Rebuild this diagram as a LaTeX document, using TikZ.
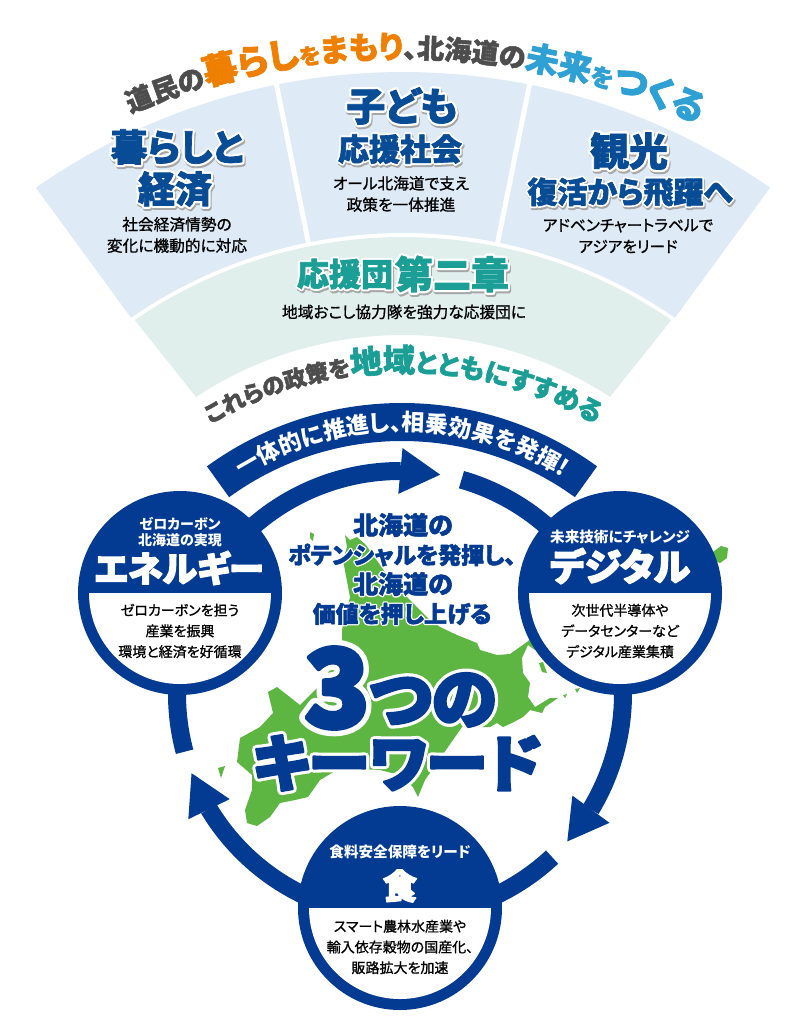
\documentclass[tikz,border=0pt]{standalone}
\usepackage{fontspec}
\usetikzlibrary{arrows.meta,bending,decorations.text}
\newfontfamily\jpfont[RawFeature={+palt}]{Noto Sans CJK JP}
\newfontfamily\jpmedium[RawFeature={+palt},FakeBold=1]{Noto Sans CJK JP}
\newfontfamily\jpcurve[RawFeature={+palt},FakeBold=2]{Noto Sans CJK JP}
\newfontfamily\jpheavy[RawFeature={+palt},FakeBold=4]{Noto Sans CJK JP}
\newfontfamily\jphalo[RawFeature={+palt},FakeBold=14]{Noto Sans CJK JP}
\newcommand{\fs}[2][1.3]{\fontsize{#2}{#1\dimexpr#2pt\relax}\selectfont}
\newcommand{\halotext}[2]{\makebox[0pt]{\color{white}\jphalo\bfseries #2}\makebox[0pt]{\color{#1}\jpcurve\bfseries #2}}
\newcommand{\shadetext}[2]{\makebox[0pt]{\kern2pt\raisebox{-2pt}{\color{black!35}\jphalo\bfseries #2}}\makebox[0pt]{\color{white}\jphalo\bfseries #2}\makebox[0pt]{\color{#1}\jpcurve\bfseries #2}}
\newcommand{\heavytext}[2]{\makebox[0pt]{\color{white}\jphalo\bfseries #2}\makebox[0pt]{\color{#1}\jpheavy\bfseries #2}}
\newcommand{\curvefont}[2]{\fontsize{#1}{#1}\jpcurve\bfseries\color{#2}}
\newcommand{\bandfont}[1]{\fontsize{#1}{#1}\jpfont\bfseries\color{white}}
\definecolor{navy}{RGB}{3,58,146}
\definecolor{deepblue}{RGB}{8,76,150}
\definecolor{panelblue}{RGB}{222,234,246}
\definecolor{panelgreen}{RGB}{224,238,236}
\definecolor{mapgreen}{RGB}{93,182,65}
\definecolor{teal2}{RGB}{26,158,150}
\definecolor{orange2}{RGB}{238,127,0}
\definecolor{sky}{RGB}{46,160,212}
\definecolor{gray2}{RGB}{77,77,77}
\tikzset{
  bodytext/.style={font=\jpmedium\fs[1.36]{15.7},align=center,text=black},
  smallbody/.style={font=\jpmedium\fs[1.48]{14},align=center,text=black},
  whitelabel/.style={font=\jpfont\bfseries\fs[1.2]{14.6},align=center,text=white},
  energylabel/.style={font=\jpfont\bfseries\fs[1.2]{14},align=center,text=white},
  whitehead/.style={text=white,font=\jpheavy\bfseries},
  keydisc/.style={circle,fill=navy,minimum size=204pt,inner sep=0pt},
  ringline/.style={navy,line width=18pt},
  ringhead/.style={-{Triangle[width=46pt,length=40pt,line width=0pt,flex]}}
}
\begin{document}
\begin{tikzpicture}[x=1pt,y=1pt,line join=round]
\useasboundingbox (0,0) rectangle (800,-1023);
\coordinate (fan) at (403,-712);
\coordinate (title) at (403,-758);
\coordinate (ring) at (400,-694);
\coordinate (band) at (402,-735);
\fill[panelblue] ([shift={(125:640)}]fan) arc[start angle=125,end angle=55,radius=640]
  -- ([shift={(55.4:479)}]fan) arc[start angle=55.4,end angle=124.6,radius=479] -- cycle;
\draw[white,line width=5pt] ([shift={(101.4:470)}]fan) -- ([shift={(101.4:650)}]fan);
\draw[white,line width=5pt] ([shift={(78.6:470)}]fan) -- ([shift={(78.6:650)}]fan);
\fill[panelgreen] ([shift={(124.4:475)}]fan) arc[start angle=124.4,end angle=55.6,radius=475]
  -- ([shift={(56.7:377)}]fan) arc[start angle=56.7,end angle=123.3,radius=377] -- cycle;
\fill[mapgreen] (345,-535) -- (350,-540) -- (357,-537) -- (366,-545) -- (385,-572) -- (407,-597)
  -- (413,-603) -- (428,-618) -- (440,-627) -- (457,-635) -- (477,-643) -- (480,-650) -- (497,-655) -- (510,-654)
  -- (527,-642) -- (533,-636) -- (540,-640) -- (535,-650) -- (528,-645) -- (522,-658) -- (523,-673) -- (530,-683) -- (528,-697)
  -- (535,-707) -- (550,-698) -- (558,-698) -- (545,-707) -- (542,-713) -- (530,-710) -- (523,-717) -- (512,-723)
  -- (503,-727) -- (497,-723) -- (490,-727) -- (462,-727) -- (425,-780) -- (418,-797) -- (413,-787) -- (400,-775)
  -- (380,-770) -- (340,-768) -- (320,-780) -- (308,-797) -- (295,-800) -- (280,-803) -- (270,-817) -- (257,-826)
  -- (247,-823) -- (245,-810) -- (252,-790) -- (252,-775) -- (237,-762) -- (240,-738) -- (260,-727) -- (273,-713)
  -- (268,-692) -- (277,-687) -- (300,-705) -- (325,-680) -- (342,-640) -- (342,-630) -- (350,-597) -- (343,-560)
  -- (347,-547) -- cycle;
\fill[mapgreen] (310,-532) -- (314,-534) -- (313,-541) -- (310,-538) -- cycle;
\fill[mapgreen] (218,-768) -- (225,-766) -- (221,-778) -- cycle;
\fill[mapgreen] (713,-552) -- (721,-546) -- (728,-548) -- (727,-558) -- (720,-563) -- (715,-561) -- cycle;
\fill[mapgreen] (539,-663) -- (543,-662) -- (547,-673) -- (542,-672) -- cycle;
\fill[mapgreen] (563,-695) -- (567,-694) -- (565,-698) -- cycle;
\fill[mapgreen] (575,-689) -- (580,-688) -- (577,-693) -- cycle;
\draw[ringline,ringhead] (ring) ++(150:223) arc[start angle=150,end angle=79.6,radius=223];
\draw[ringline] (ring) ++(74:223) arc[start angle=74,end angle=30,radius=223];
\draw[ringline,ringhead] (ring) ++(15:223) arc[start angle=15,end angle=-41.4,radius=223];
\draw[ringline] (ring) ++(-47:223) arc[start angle=-47,end angle=-80,radius=223];
\draw[ringline,ringhead] (ring) ++(-110:223) arc[start angle=-110,end angle=-159.2,radius=223];
\draw[ringline] (ring) ++(195:223) arc[start angle=195,end angle=160,radius=223];
\draw[navy,line width=38pt] (band) ++(126:313) arc[start angle=126,end angle=54,radius=313];
\node[keydisc] (energy) at (180,-593) {};
\node[keydisc] (digital) at (620,-593) {};
\node[keydisc] (food) at (400,-908) {};
\fill[white] (energy.center) ++(-91,0) arc[start angle=180,end angle=360,radius=91] -- cycle;
\fill[white] (digital.center) ++(-91,0) arc[start angle=180,end angle=360,radius=91] -- cycle;
\fill[white] (food.center) ++(-91,0) arc[start angle=180,end angle=360,radius=91] -- cycle;
\path[decorate,decoration={text along path,text align=center,
  text={|\curvefont{27}{gray2}|道民の|\curvefont{35}{orange2}|暮らし|\curvefont{22}{orange2}|を|\curvefont{31}{orange2}|まもり|\curvefont{27}{gray2}|、北海道の|\curvefont{33}{sky}|未来|\curvefont{24}{sky}|を|\curvefont{36}{sky}|つくる}}]
  (title) ++(117:700) arc[start angle=117,end angle=61,radius=700];
\path[decorate,decoration={text along path,text align=center,
  text={|\curvefont{22.5}{gray2}|これらの政策を|\curvefont{32}{teal2}|地域|\curvefont{26}{teal2}|とともにすすめる}}]
  (title) ++(125:386) arc[start angle=125,end angle=55,radius=386];
\path[decorate,decoration={text along path,text align=center,
  text={|\bandfont{23}|一体的に推進し、相乗効果を発揮!}}]
  (band) ++(122:304) arc[start angle=122,end angle=58,radius=304];
\node[font=\jpfont\fs{37}] (lifehead) at (177,-148) {\shadetext{deepblue}{暮らしと}};
\node[font=\jpfont\fs{37}] (econhead) at (175,-190) {\shadetext{deepblue}{経済}};
\node[bodytext] (lifebody) at (177,-235) {社会経済情勢の\\変化に機動的に対応};
\node[font=\jpfont\fs{39}] (childhead) at (402,-107) {\shadetext{deepblue}{子ども}};
\node[font=\jpfont\fs{31}] (supporthead) at (400,-150) {\shadetext{deepblue}{応援社会}};
\node[bodytext] (childbody) at (401,-194) {オール北海道で支え\\政策を一体推進};
\node[font=\jpfont\fs{39}] (tourhead) at (629,-152) {\shadetext{deepblue}{観光}};
\node[font=\jpfont\fs{30}] (leaphead) at (630,-193) {\shadetext{deepblue}{復活から飛躍へ}};
\node[bodytext] (tourbody) at (628,-236) {アドベンチャートラベルで\\アジアをリード};
\node[font=\jpfont\fs{32}] (teamhead) at (345,-275) {\shadetext{teal2}{応援団}};
\node[font=\jpfont\fs{38}] (chapterhead) at (452,-275) {\shadetext{teal2}{第二章}};
\node[bodytext] (teambody) at (404,-312) {地域おこし協力隊を強力な応援団に};
\node[energylabel] (energytop) at (180,-532) {ゼロカーボン\\北海道の実現};
\node[whitehead,font=\jpheavy\bfseries\fs{35}] (energyhead) at (179,-568) {エネルギー};
\node[smallbody] (energybody) at (180,-631) {ゼロカーボンを担う\\産業を振興\\環境と経済を好循環};
\node[whitelabel] (digitaltop) at (620,-537) {未来技術にチャレンジ};
\node[whitehead,font=\jpheavy\bfseries\fs{37}] (digitalhead) at (620,-566) {デジタル};
\node[smallbody] (digitalbody) at (620,-631) {次世代半導体や\\データセンターなど\\デジタル産業集積};
\node[whitelabel] (foodtop) at (400,-852) {食料安全保障をリード};
\node[whitehead,font=\jpheavy\bfseries\fs{34}] (foodhead) at (400,-886) {食};
\node[smallbody] (foodbody) at (400,-947) {スマート農林水産業や\\輸入依存穀物の国産化、\\販路拡大を加速};
\node[font=\jpfont\fs{25}] (potential1) at (403,-525) {\halotext{navy}{北海道の}};
\node[font=\jpfont\fs{23}] (potential2) at (402,-555) {\halotext{navy}{ポテンシャルを発揮し、}};
\node[font=\jpfont\fs{25}] (potential3) at (403,-584) {\halotext{navy}{北海道の}};
\node[font=\jpfont\fs{23}] (potential4) at (402,-614) {\halotext{navy}{価値を押し上げる}};
\node[font=\jpfont\fs{108}] (three) at (337,-688) {\heavytext{navy}{3}};
\node[font=\jpfont\fs{66}] (tsuno) at (433,-700) {\heavytext{navy}{つの}};
\node[font=\jpfont\fs{62}] (keyword) at (397,-763) {\heavytext{navy}{キーワード}};
\end{tikzpicture}
\end{document}
